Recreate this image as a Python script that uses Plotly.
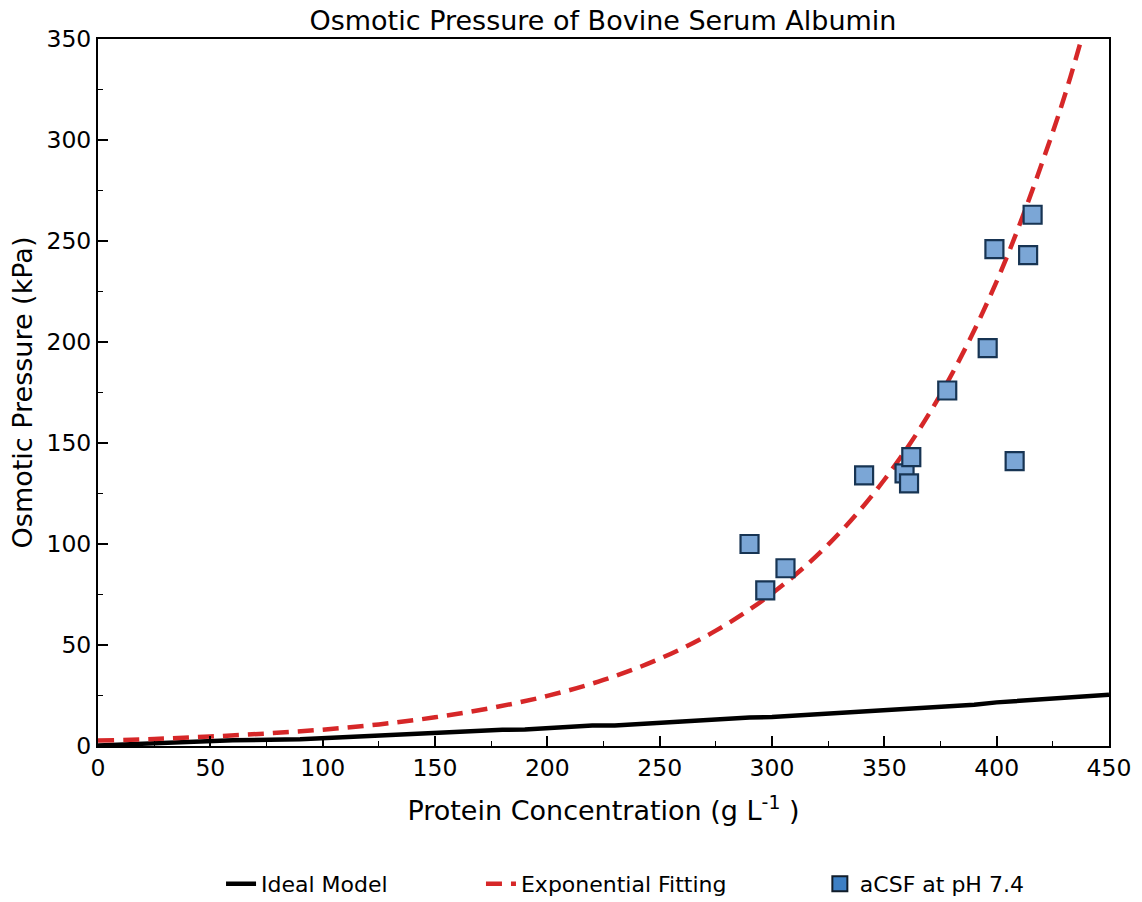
import plotly.graph_objects as go

# Measured osmotic pressure of BSA in aCSF (pH 7.4)
conc_meas = [290, 297, 306, 341, 359, 361, 362, 378, 396, 399, 408, 414, 416]
press_meas = [100, 77, 88, 134, 135, 130, 143, 176, 197, 246, 141, 243, 263]

# Ideal (van't Hoff) model curve
conc_ideal = [0, 40, 50, 60, 90, 100, 120, 140, 150, 170, 180, 190, 200, 220, 230,
              260, 290, 300, 340, 380, 390, 400, 420, 450]
press_ideal = [0.3, 2.0, 2.6, 2.8, 3.4, 3.9, 5.0, 6.3, 6.5, 7.6, 8.0, 8.2, 8.9, 10.1, 10.2,
               12.2, 14.1, 14.3, 16.8, 19.6, 20.4, 21.6, 23.1, 25.4]

# Exponential fit curve
conc_fit = [0, 25, 50, 75, 100, 125, 150, 175, 200, 225, 250, 275, 300, 325, 350,
            375, 400, 425, 437.5, 450]
press_fit = [2.7, 3.5, 4.7, 6.2, 8.1, 10.7, 14.2, 18.8, 24.8, 32.7, 43.2, 57.1, 75.5, 99.7, 131.8,
             174, 230, 304, 349, 401]

FONT = "DejaVu Sans"

fig = go.Figure()

fig.add_trace(go.Scatter(
    x=conc_ideal, y=press_ideal, mode="lines", name="Ideal Model", legend="legend",
    line=dict(color="black", width=4.5),
))
fig.add_trace(go.Scatter(
    x=conc_fit, y=press_fit, mode="lines", name="Exponential Fitting", legend="legend2",
    line=dict(color="#d62728", width=4.5, dash="16px,9px", shape="spline", smoothing=1.0),
))
fig.add_trace(go.Scatter(
    x=conc_meas, y=press_meas, mode="markers", showlegend=False,
    marker=dict(symbol="square", size=18, color="#7ba6d6",
                line=dict(color="#173453", width=2.2)),
))
# legend entry for the measurements
fig.add_trace(go.Scatter(
    x=[None], y=[None], mode="markers", name="aCSF at pH 7.4", legend="legend3",
    marker=dict(symbol="square", size=15, color="#3d7fc4",
                line=dict(color="#111d2a", width=2)),
))

axis_common = dict(
    showgrid=False, zeroline=False, showline=True, linecolor="black", linewidth=2,
    mirror=True, ticks="inside", ticklen=10, tickwidth=1.5, tickcolor="black",
    tickfont=dict(family=FONT, size=23.5, color="black"),
)

fig.update_xaxes(
    range=[0, 450], dtick=50, tick0=0,
    minor=dict(ticks="inside", ticklen=5, tickwidth=1, dtick=25, tick0=0, tickcolor="black"),
    title=dict(text="Protein Concentration (g L<sup>-1</sup> )",
               font=dict(family=FONT, size=27, color="black"), standoff=20),
    **axis_common,
)
fig.update_yaxes(
    range=[0, 350], dtick=50, tick0=0,
    minor=dict(ticks="inside", ticklen=5, tickwidth=1, dtick=25, tick0=0, tickcolor="black"),
    title=dict(text="Osmotic Pressure (kPa)",
               font=dict(family=FONT, size=27, color="black"), standoff=6),
    **axis_common,
)

legend_common = dict(orientation="h", xanchor="left", y=-0.195, yanchor="middle",
                     font=dict(family=FONT, size=22, color="black"),
                     bgcolor="rgba(0,0,0,0)")

fig.update_layout(
    width=1142, height=902,
    margin=dict(l=98, r=33, t=39, b=156, autoexpand=False),
    plot_bgcolor="white", paper_bgcolor="white",
    title=dict(text="Osmotic Pressure of Bovine Serum Albumin",
               font=dict(family=FONT, size=27, color="black"),
               x=0.528, xanchor="center", y=0.977, yanchor="middle"),
    legend=dict(x=0.1217, **legend_common),
    legend2=dict(x=0.3788, **legend_common),
    legend3=dict(x=0.714, **legend_common),
    showlegend=True,
)

fig.write_html("out.html")
